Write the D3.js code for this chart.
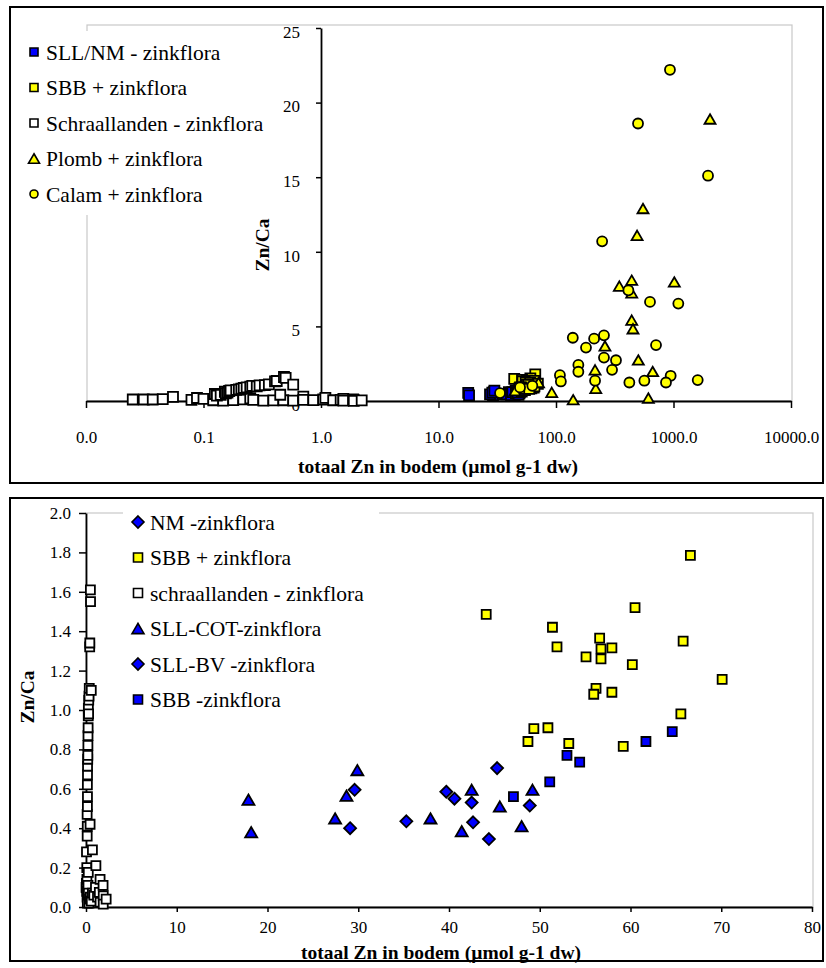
<!DOCTYPE html>
<html>
<head>
<meta charset="utf-8">
<script src="https://cdn.jsdelivr.net/npm/d3@7"></script>
<style>
  html, body { margin: 0; padding: 0; background: #fff; }
  svg { display: block; }
</style>
</head>
<body>
<svg id="chart" width="826" height="968" font-family="Liberation Serif"></svg>
<script>
// ---------- data: bottom panel (linear Zn axis) ----------
const nmZinkflora = [[29.1,0.40],[35.3,0.435],[42.65,0.43],[44.4,0.345],[48.9,0.515]];
const sllBvZinkflora = [[29.6,0.595],[39.7,0.585],[40.6,0.55],[42.5,0.53],[45.3,0.705]];
const sllCotZinkflora = [[17.9,0.545],[18.2,0.38],[27.45,0.45],[28.7,0.565],[29.9,0.695],[37.96,0.45],
  [41.4,0.385],[42.5,0.595],[45.6,0.51],[48.0,0.41],[49.2,0.595]];
const sbbMinZinkflora = [[47.1,0.56],[51.1,0.635],[53.0,0.77],[54.4,0.735],[61.7,0.84],[64.6,0.89]];
const sbbPlusZinkflora = [[66.6,1.785],[44.1,1.485],[60.5,1.52],[51.4,1.42],[51.9,1.32],[56.6,1.365],
  [56.75,1.31],[57.95,1.315],[56.75,1.26],[55.1,1.27],[65.8,1.35],[60.2,1.23],[70.1,1.155],[56.2,1.11],
  [55.95,1.08],[57.95,1.09],[65.55,0.98],[49.35,0.905],[50.9,0.91],[48.7,0.84],[53.2,0.83],[59.2,0.815]];
const schraallanden = [
  [0.025,0.10],[0.031,0.10],[0.037,0.10],[0.045,0.12],[0.055,0.28],[0.079,0.08],[0.088,0.20],[0.10,0.14],
  [0.121,0.05],[0.147,0.02],[0.179,0.06],[0.218,0.11],[0.25,0.176],[0.265,0.07],[0.323,0.02],[0.393,0.04],
  [0.478,0.05],[0.58,0.03],
  [0.125,0.47],[0.13,0.36],[0.14,0.41],[0.152,0.62],[0.155,0.51],[0.16,0.56],[0.165,0.67],[0.17,0.715],
  [0.19,0.75],[0.2,0.77],[0.21,0.82],[0.22,0.87],[0.233,0.91],[0.25,0.97],[0.26,1.01],[0.284,0.98],
  [0.3,1.05],[0.333,1.07],[0.36,1.11],[0.406,1.32],[0.42,1.34],[0.484,1.61],[0.5,1.55],[0.58,1.10],[0.45,0.42],
  [0.707,0.29],[0.707,0.07],[0.86,0.06],[1.045,0.10],[1.09,0.21],[1.27,0.05],[1.47,0.074],[1.55,0.14],
  [1.55,0.024],[1.88,0.11],[1.9,0.057],[1.9,0.015],[2.22,0.04]
];

// ---------- data: top panel (log Zn axis) ----------
const sllNmZinkflora = [].concat(nmZinkflora, sllBvZinkflora, sllCotZinkflora, sbbMinZinkflora);
const plombZinkflora = [[346,7.7],[441,8.1],[441,7.25],[1016,7.98],[441,5.42],[452,4.84],[261,3.69],
  [502,2.75],[215,2.09],[665,1.98],[218,0.85],[92,0.58],[140,0.09],[611,0.2],[71,1.24],[2046,18.9],
  [550,12.9],[490,11.1],[44.8,0.69]];
const calamZinkflora = [[413,7.42],[631,6.64],[1099,6.53],[139,4.24],[211,4.18],[256,4.4],[180,3.58],
  [710,3.75],[256,2.91],[324,2.73],[300,2.09],[155,2.42],[155,1.96],[108,1.73],[110,1.31],[215,1.36],
  [421,1.24],[565,1.36],[946,1.69],[863,1.24],[1607,1.4],[33.4,0.53],[49.4,0.91],[62.9,1.02],
  [499,18.6],[1967,15.1],[247,10.7],[933,22.2]];

// ---------- tick values ----------
const xTicksTop = [0.01, 0.1, 1, 10, 100, 1000, 10000];
const yTicksTop = [0, 5, 10, 15, 20, 25];
const xTicksBottom = [0, 10, 20, 30, 40, 50, 60, 70, 80];
const yTicksBottom = [0, 0.2, 0.4, 0.6, 0.8, 1.0, 1.2, 1.4, 1.6, 1.8, 2.0];

const axisTitleX = "totaal Zn in bodem (µmol g-1 dw)";
const axisTitleY = "Zn/Ca";
const SERIF = "Liberation Serif";

// ---------- marker shapes ----------
const YELLOW = "#ffff00", BLUE = "#0000ff", WHITE = "#ffffff";
const shapes = {
  square: s => `M${-s/2},${-s/2}h${s}v${s}h${-s}Z`,
  circle: s => d3.symbol(d3.symbolCircle, Math.PI * (s/2) * (s/2))(),
  triangle: s => `M0,${-s*0.43}L${s/2},${s*0.43}L${-s/2},${s*0.43}Z`,
  diamond: s => `M0,${-s/2}L${s/2},0L0,${s/2}L${-s/2},0Z`
};

const svg = d3.select("#chart");

function drawSeries(g, data, x, y, shape, fill, size) {
  g.append("g").selectAll("path").data(data).join("path")
    .attr("d", shapes[shape](size))
    .attr("transform", d => `translate(${x(d[0])},${y(d[1])})`)
    .attr("fill", fill).attr("stroke", "#000").attr("stroke-width", 1.8);
}

function drawLegend(g, items, x0, y0, step, fontSize) {
  items.forEach((it, i) => {
    const cy = y0 + i * step;
    g.append("path").attr("d", shapes[it.shape](it.size))
      .attr("transform", `translate(${x0},${cy})`)
      .attr("fill", it.fill).attr("stroke", "#000").attr("stroke-width", 1.6);
    g.append("text").attr("x", x0 + 12).attr("y", cy).attr("dy", "0.35em")
      .attr("font-family", SERIF).attr("font-size", fontSize).attr("fill", "#000").text(it.label);
  });
}

function styleAxis(g, fontSize) {
  g.attr("font-family", SERIF).attr("font-size", fontSize);
  g.select(".domain").attr("stroke", "#000").attr("stroke-width", 1.8);
  g.selectAll(".tick line").attr("stroke", "#000").attr("stroke-width", 1.5);
  g.selectAll(".tick text").attr("font-family", SERIF).attr("font-size", fontSize).attr("fill", "#000");
}

function title(g, txt, tx, ty, rotate) {
  g.append("text")
    .attr("transform", `translate(${tx},${ty})` + (rotate ? " rotate(-90)" : ""))
    .attr("dy", "0.35em").attr("text-anchor", "middle")
    .attr("font-family", SERIF).attr("font-size", 19.5).attr("font-weight", "bold").attr("fill", "#000")
    .text(txt);
}

// ====================== top panel ======================
{
  const g = svg.append("g");
  g.append("rect").attr("x", 10).attr("y", 7).attr("width", 813).attr("height", 476)
    .attr("fill", "#fff").attr("stroke", "#000").attr("stroke-width", 2);

  const x = d3.scaleLog().domain([0.01, 10000]).range([86, 791]);
  const y = d3.scaleLinear().domain([0, 25]).range([401, 28]);

  // plot-area frame
  g.append("rect").attr("x", 87).attr("y", 25).attr("width", 705).attr("height", 376)
    .attr("fill", "none").attr("stroke", "#c8c8c8").attr("stroke-width", 1.2);

  // legend
  const lg = g.append("g");
  lg.append("rect").attr("x", 16).attr("y", 31).attr("width", 266).attr("height", 184).attr("fill", "#fff");
  drawLegend(lg, [
    {label: "SLL/NM - zinkflora", shape: "square", fill: BLUE, size: 8},
    {label: "SBB + zinkflora", shape: "square", fill: YELLOW, size: 8},
    {label: "Schraallanden - zinkflora", shape: "square", fill: WHITE, size: 8},
    {label: "Plomb + zinkflora", shape: "triangle", fill: YELLOW, size: 11},
    {label: "Calam + zinkflora", shape: "circle", fill: YELLOW, size: 8}
  ], 34, 52, 35.5, 21.5);

  const gx = g.append("g").attr("transform", "translate(0,401)")
    .call(d3.axisBottom(x).tickValues(xTicksTop).tickFormat(d3.format(".1f"))
      .tickSizeInner(7).tickSizeOuter(0).tickPadding(23));
  styleAxis(gx, 17);

  const gy = g.append("g").attr("transform", `translate(${x(1)},0)`)
    .call(d3.axisLeft(y).tickValues(yTicksTop).tickFormat(d3.format("d"))
      .tickSizeInner(5).tickSizeOuter(0).tickPadding(16));
  styleAxis(gy, 17);
  gy.selectAll(".tick text").attr("dy", "0.55em");

  title(g, axisTitleX, 438, 466, false);
  title(g, axisTitleY, 262, 245, true);

  drawSeries(g, sllNmZinkflora, x, y, "square", BLUE, 10);
  drawSeries(g, sbbPlusZinkflora, x, y, "square", YELLOW, 10);
  drawSeries(g, schraallanden, x, y, "square", WHITE, 10);
  drawSeries(g, plombZinkflora, x, y, "triangle", YELLOW, 11);
  drawSeries(g, calamZinkflora, x, y, "circle", YELLOW, 10);
}

// ====================== bottom panel ======================
{
  const g = svg.append("g");
  g.append("rect").attr("x", 10).attr("y", 498).attr("width", 813).attr("height", 463)
    .attr("fill", "#fff").attr("stroke", "#000").attr("stroke-width", 2);

  const x = d3.scaleLinear().domain([0, 80]).range([86, 812]);
  const y = d3.scaleLinear().domain([0, 2]).range([907, 513]);

  g.append("rect").attr("x", 86).attr("y", 513).attr("width", 727).attr("height", 394)
    .attr("fill", "none").attr("stroke", "#c8c8c8").attr("stroke-width", 1.2);

  const lg = g.append("g");
  lg.append("rect").attr("x", 123).attr("y", 506).attr("width", 256).attr("height", 212).attr("fill", "#fff");
  drawLegend(lg, [
    {label: "NM -zinkflora", shape: "diamond", fill: BLUE, size: 12},
    {label: "SBB + zinkflora", shape: "square", fill: YELLOW, size: 9},
    {label: "schraallanden - zinkflora", shape: "square", fill: WHITE, size: 9},
    {label: "SLL-COT-zinkflora", shape: "triangle", fill: BLUE, size: 12},
    {label: "SLL-BV -zinkflora", shape: "diamond", fill: BLUE, size: 12},
    {label: "SBB -zinkflora", shape: "square", fill: BLUE, size: 9}
  ], 138, 522, 35.5, 21.5);

  const gx = g.append("g").attr("transform", "translate(0,907)")
    .call(d3.axisBottom(x).tickValues(xTicksBottom).tickFormat(d3.format("d"))
      .tickSizeInner(5).tickSizeOuter(0).tickPadding(9));
  styleAxis(gx, 17);

  const gy = g.append("g").attr("transform", "translate(86,0)")
    .call(d3.axisLeft(y).tickValues(yTicksBottom).tickFormat(d3.format(".1f"))
      .tickSizeInner(7).tickSizeOuter(0).tickPadding(8));
  styleAxis(gy, 17);

  title(g, axisTitleX, 441, 952, false);
  title(g, axisTitleY, 27, 697, true);

  drawSeries(g, nmZinkflora, x, y, "diamond", BLUE, 12);
  drawSeries(g, sbbPlusZinkflora, x, y, "square", YELLOW, 9);
  drawSeries(g, schraallanden, x, y, "square", WHITE, 9);
  drawSeries(g, sllCotZinkflora, x, y, "triangle", BLUE, 12);
  drawSeries(g, sllBvZinkflora, x, y, "diamond", BLUE, 12);
  drawSeries(g, sbbMinZinkflora, x, y, "square", BLUE, 9);
}
</script>
</body>
</html>
